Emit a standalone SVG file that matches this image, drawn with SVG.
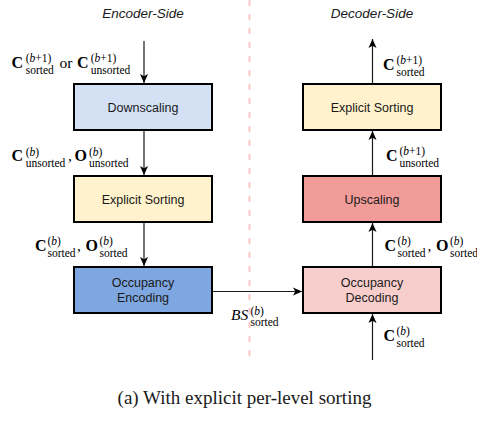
<svg xmlns="http://www.w3.org/2000/svg" width="477" height="421" viewBox="0 0 477 421">
  <style>
    .box { stroke: #000; stroke-width: 2; }
    .blabel { font-family: "Liberation Sans", Arial, sans-serif; font-size: 12.5px; fill: #1a1a1a; text-anchor: middle; }
    .side { font-family: "Liberation Sans", Arial, sans-serif; font-size: 13.5px; font-style: italic; fill: #1a1a1a; text-anchor: middle; }
    .edge { stroke: #1a1a1a; stroke-width: 1.2; fill: none; marker-end: url(#head); }
    .math { font-family: "Liberation Serif", "Times New Roman", serif; fill: #000; }
    .bf { font-size: 16px; font-weight: bold; }
    .rm { font-size: 15.5px; }
    .sc { font-size: 11.5px; }
    .it { font-style: italic; }
    .caption { font-family: "Liberation Serif", "Times New Roman", serif; font-size: 19px; fill: #1a1a1a; text-anchor: middle; }
  </style>
  <defs>
    <marker id="head" viewBox="0 0 10 10" refX="10" refY="5" markerWidth="9" markerHeight="9" markerUnits="userSpaceOnUse" orient="auto">
      <path d="M0,0.5 L10,5 L0,9.5 L2.5,5 Z" fill="#000"/>
    </marker>
  </defs>

  <rect width="477" height="421" fill="#fff"/>

  <!-- divider between the two halves -->
  <line x1="249.5" y1="0" x2="249.5" y2="362" stroke="#ffc8c8" stroke-width="2" stroke-dasharray="6 8"/>

  <text class="side" x="143" y="17.5">Encoder-Side</text>
  <text class="side" x="372" y="17.5">Decoder-Side</text>

  <!-- connectors -->
  <g id="connectors">
    <line class="edge" x1="144" y1="41" x2="144" y2="83"/>
    <line class="edge" x1="144" y1="131" x2="144" y2="175"/>
    <line class="edge" x1="144" y1="223" x2="144" y2="266"/>
    <line class="edge" x1="213" y1="291.5" x2="302" y2="291.5"/>
    <line class="edge" x1="372.5" y1="360" x2="372.5" y2="314"/>
    <line class="edge" x1="372.5" y1="266" x2="372.5" y2="223"/>
    <line class="edge" x1="372.5" y1="175" x2="372.5" y2="131"/>
    <line class="edge" x1="372.5" y1="83" x2="372.5" y2="39"/>
  </g>

  <!-- encoder nodes -->
  <g id="downscaling">
    <rect class="box" x="74" y="84" width="138" height="46" fill="#d4e1f5"/>
    <text class="blabel" x="143" y="111.5">Downscaling</text>
  </g>
  <g id="enc-sorting">
    <rect class="box" x="74" y="176" width="138" height="46" fill="#fff2cc"/>
    <text class="blabel" x="143" y="203.5">Explicit Sorting</text>
  </g>
  <g id="occ-encoding">
    <rect class="box" x="74" y="267" width="138" height="46" fill="#7ea6e0"/>
    <text class="blabel" x="143" y="286.5">Occupancy</text>
    <text class="blabel" x="143" y="302">Encoding</text>
  </g>

  <!-- decoder nodes -->
  <g id="dec-sorting">
    <rect class="box" x="303" y="84" width="138" height="46" fill="#fff2cc"/>
    <text class="blabel" x="372" y="111.5">Explicit Sorting</text>
  </g>
  <g id="upscaling">
    <rect class="box" x="303" y="176" width="138" height="46" fill="#f19c99"/>
    <text class="blabel" x="372" y="203.5">Upscaling</text>
  </g>
  <g id="occ-decoding">
    <rect class="box" x="303" y="267" width="138" height="46" fill="#f8cecc"/>
    <text class="blabel" x="372" y="286.5">Occupancy</text>
    <text class="blabel" x="372" y="302">Decoding</text>
  </g>

  <!-- edge labels -->
  <g class="math" id="lbl-enc-input">
    <text class="bf" x="11.5" y="67.7">C</text>
    <text class="sc" x="25.7" y="62">(<tspan class="it">b</tspan>+1)</text>
    <text class="sc" x="25.7" y="73.5">sorted</text>
    <text class="rm" x="59.5" y="67.7">or</text>
    <text class="bf" x="77" y="67.7">C</text>
    <text class="sc" x="90.7" y="62">(<tspan class="it">b</tspan>+1)</text>
    <text class="sc" x="90.7" y="73.5">unsorted</text>
  </g>
  <g class="math" id="lbl-enc-unsorted">
    <text class="bf" x="11.5" y="160.7">C</text>
    <text class="sc" x="25.7" y="155.5">(<tspan class="it">b</tspan>)</text>
    <text class="sc" x="25.7" y="166.7">unsorted</text>
    <text class="rm" x="68" y="160.7">,</text>
    <text class="bf" x="74.5" y="160.7">O</text>
    <text class="sc" x="89" y="155.5">(<tspan class="it">b</tspan>)</text>
    <text class="sc" x="89" y="166.7">unsorted</text>
  </g>
  <g class="math" id="lbl-enc-sorted">
    <text class="bf" x="35" y="250.6">C</text>
    <text class="sc" x="47.5" y="245.4">(<tspan class="it">b</tspan>)</text>
    <text class="sc" x="47.5" y="256.6">sorted</text>
    <text class="rm" x="77" y="250.6">,</text>
    <text class="bf" x="85.5" y="250.6">O</text>
    <text class="sc" x="99.5" y="245.4">(<tspan class="it">b</tspan>)</text>
    <text class="sc" x="99.5" y="256.6">sorted</text>
  </g>
  <g class="math" id="lbl-bitstream">
    <text class="rm it" x="231" y="320" font-size="16px">BS</text>
    <text class="sc" x="250.5" y="314.5">(<tspan class="it">b</tspan>)</text>
    <text class="sc" x="250.5" y="325.5">sorted</text>
  </g>
  <g class="math" id="lbl-dec-out">
    <text class="bf" x="383" y="70">C</text>
    <text class="sc" x="396.5" y="64">(<tspan class="it">b</tspan>+1)</text>
    <text class="sc" x="396.5" y="76">sorted</text>
  </g>
  <g class="math" id="lbl-dec-unsorted">
    <text class="bf" x="386" y="160.5">C</text>
    <text class="sc" x="399.5" y="155">(<tspan class="it">b</tspan>+1)</text>
    <text class="sc" x="399.5" y="166.5">unsorted</text>
  </g>
  <g class="math" id="lbl-dec-sorted">
    <text class="bf" x="384.5" y="250.6">C</text>
    <text class="sc" x="397.5" y="245.4">(<tspan class="it">b</tspan>)</text>
    <text class="sc" x="397.5" y="256.6">sorted</text>
    <text class="rm" x="427.5" y="250.6">,</text>
    <text class="bf" x="436" y="250.6">O</text>
    <text class="sc" x="450" y="245.4">(<tspan class="it">b</tspan>)</text>
    <text class="sc" x="450" y="256.6">sorted</text>
  </g>
  <g class="math" id="lbl-dec-input">
    <text class="bf" x="383.5" y="340.5">C</text>
    <text class="sc" x="396.5" y="335">(<tspan class="it">b</tspan>)</text>
    <text class="sc" x="396.5" y="346.5">sorted</text>
  </g>

  <text class="caption" x="244.5" y="404">(a) With explicit per-level sorting</text>
</svg>
